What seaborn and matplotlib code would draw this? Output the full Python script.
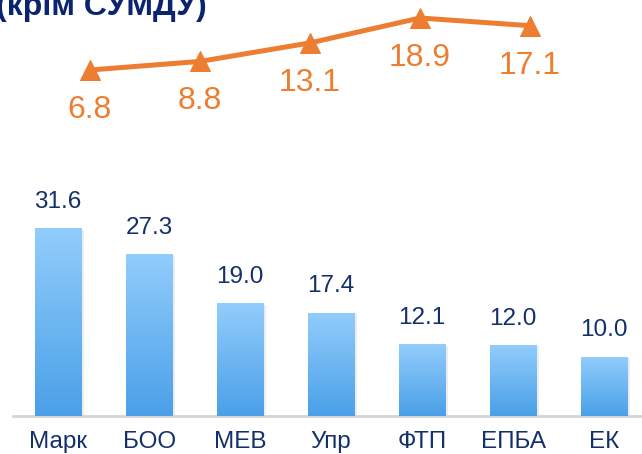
import matplotlib
matplotlib.use("Agg")
import matplotlib.pyplot as plt
import seaborn as sns
import pandas as pd
import numpy as np
from matplotlib.colors import LinearSegmentedColormap

categories = ["Марк", "БОО", "МЕВ", "Упр", "ФТП", "ЕПБА", "ЕК"]
bar_values = [31.6, 27.3, 19.0, 17.4, 12.1, 12.0, 10.0]
line_values = [6.8, 8.8, 13.1, 18.9, 17.1]
title_text = "(крім СУМДУ)"

navy = "#14306b"
orange = "#ED7D31"

sns.set_theme(style="white")
plt.rcParams["font.family"] = ["Liberation Sans", "DejaVu Sans"]

fig = plt.figure(figsize=(6.42, 4.54), dpi=100)

# bar axes
W, H = 642.0, 454.0
ax = fig.add_axes([12.5 / W, (H - 416) / H, 637.3 / W, 208 / H])
df = pd.DataFrame({"cat": categories, "val": bar_values})
sns.barplot(data=df, x="cat", y="val", ax=ax, width=0.51, color="#7cbff5",
            edgecolor="none", zorder=3)
ax.set_xlabel("")
ax.set_ylabel("")
ax.set_yticks([])
for s in ["top", "left", "right"]:
    ax.spines[s].set_visible(False)
ax.spines["bottom"].set_color("#d4d4d4")
ax.spines["bottom"].set_linewidth(2)
ax.tick_params(axis="x", length=0, pad=11, labelsize=17.5, labelcolor=navy)

cmap = LinearSegmentedColormap.from_list("bluegrad", ["#4aa0e8", "#92cdfc"])
grad = np.linspace(0, 1, 256).reshape(-1, 1)
for i, p in enumerate(list(ax.patches)):
    x0, y0 = p.get_x(), p.get_y()
    w, h = p.get_width(), p.get_height()
    # soft shadow
    ax.add_patch(plt.Rectangle((x0 + 0.03, y0), w, h - 0.3, facecolor="#000000",
                               alpha=0.07, edgecolor="none", zorder=2))
    im = ax.imshow(grad, extent=[x0, x0 + w, y0, y0 + h], origin="lower",
                   cmap=cmap, aspect="auto", zorder=3)
    im.set_clip_path(p)
    p.set_facecolor("none")
    ax.text(x0 + w / 2, y0 + h + 4.4, f"{bar_values[i]:.1f}",
            ha="center", va="center", fontsize=17.5, color=navy, zorder=4)
ax.set_xlim(-0.5, 6.5)
ax.set_ylim(0, 35)

# line axes
ax2 = fig.add_axes([0, (H - 150) / H, 1, 150 / H])
xs = np.arange(len(line_values))
sns.lineplot(x=xs, y=line_values, ax=ax2, color=orange, linewidth=3.6,
             marker="^", markersize=14, markeredgecolor=orange)
ax2.set_xlim(-90 / 110, (W - 90) / 110)
ax2.set_ylim(6.8 - 80 / 4.3, 6.8 + 70 / 4.3)
ax2.axis("off")
for xv, yv in zip(xs, line_values):
    ax2.text(xv, yv - 40 / 4.3, f"{yv:.1f}", ha="center", va="center",
             fontsize=23, color=orange)

fig.text(-4 / W, 1 - 15 / H, title_text, ha="left", va="baseline", fontsize=23,
         fontweight="bold", color="#0a2470")

fig.savefig("out.png", dpi=100)
